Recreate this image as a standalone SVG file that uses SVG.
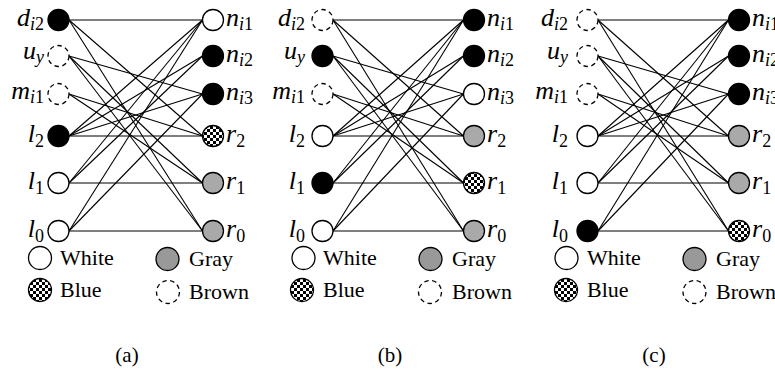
<svg xmlns="http://www.w3.org/2000/svg" width="775" height="379" viewBox="0 0 775 379">
<defs>
<pattern id="chk" patternUnits="userSpaceOnUse" width="6" height="6">
<rect width="6" height="6" fill="#fff"/>
<rect width="3" height="3" fill="#000"/>
<rect x="3" y="3" width="3" height="3" fill="#000"/>
</pattern>
</defs>
<style>
circle{stroke:#000;stroke-width:1.3}
.w{fill:#fff}
.k{fill:#000}
.g{fill:#a9a9a9}
.lg{fill:#999}
.b{fill:url(#chk)}
.d{fill:#fff;stroke-dasharray:4.5 3.5}
#connectors line{stroke:#000;stroke-width:1.1}
text{font-family:"Liberation Serif","Times New Roman",serif;font-size:22px;fill:#000}
.m{font-size:26px}
.i{font-style:italic}
.s{font-size:18px}
.L{text-anchor:end}
.c{text-anchor:middle;font-size:21px}
</style>
<g id="connectors">
<!-- panel a -->
<line x1="69" y1="20" x2="202.5" y2="20"/>
<line x1="69" y1="20" x2="202.5" y2="136"/>
<line x1="69" y1="20" x2="202.5" y2="231"/>
<line x1="69" y1="56" x2="202.5" y2="94"/>
<line x1="69" y1="56" x2="202.5" y2="183"/>
<line x1="69" y1="56" x2="202.5" y2="231"/>
<line x1="69" y1="94" x2="202.5" y2="136"/>
<line x1="69" y1="94" x2="202.5" y2="183"/>
<line x1="69" y1="136" x2="202.5" y2="20"/>
<line x1="69" y1="136" x2="202.5" y2="56"/>
<line x1="69" y1="136" x2="202.5" y2="94"/>
<line x1="69" y1="136" x2="202.5" y2="136"/>
<line x1="69" y1="183" x2="202.5" y2="20"/>
<line x1="69" y1="183" x2="202.5" y2="56"/>
<line x1="69" y1="183" x2="202.5" y2="183"/>
<line x1="69" y1="231" x2="202.5" y2="20"/>
<line x1="69" y1="231" x2="202.5" y2="94"/>
<line x1="69" y1="231" x2="202.5" y2="231"/>
<!-- panel b -->
<line x1="333" y1="20" x2="463.5" y2="20"/>
<line x1="333" y1="20" x2="463.5" y2="136"/>
<line x1="333" y1="20" x2="463.5" y2="231"/>
<line x1="333" y1="56" x2="463.5" y2="94"/>
<line x1="333" y1="56" x2="463.5" y2="183"/>
<line x1="333" y1="56" x2="463.5" y2="231"/>
<line x1="333" y1="94" x2="463.5" y2="136"/>
<line x1="333" y1="94" x2="463.5" y2="183"/>
<line x1="333" y1="136" x2="463.5" y2="20"/>
<line x1="333" y1="136" x2="463.5" y2="56"/>
<line x1="333" y1="136" x2="463.5" y2="94"/>
<line x1="333" y1="136" x2="463.5" y2="136"/>
<line x1="333" y1="183" x2="463.5" y2="20"/>
<line x1="333" y1="183" x2="463.5" y2="56"/>
<line x1="333" y1="183" x2="463.5" y2="183"/>
<line x1="333" y1="231" x2="463.5" y2="20"/>
<line x1="333" y1="231" x2="463.5" y2="94"/>
<line x1="333" y1="231" x2="463.5" y2="231"/>
<!-- panel c -->
<line x1="598" y1="20" x2="728.5" y2="20"/>
<line x1="598" y1="20" x2="728.5" y2="136"/>
<line x1="598" y1="20" x2="728.5" y2="231"/>
<line x1="598" y1="56" x2="728.5" y2="94"/>
<line x1="598" y1="56" x2="728.5" y2="183"/>
<line x1="598" y1="56" x2="728.5" y2="231"/>
<line x1="598" y1="94" x2="728.5" y2="136"/>
<line x1="598" y1="94" x2="728.5" y2="183"/>
<line x1="598" y1="136" x2="728.5" y2="20"/>
<line x1="598" y1="136" x2="728.5" y2="56"/>
<line x1="598" y1="136" x2="728.5" y2="94"/>
<line x1="598" y1="136" x2="728.5" y2="136"/>
<line x1="598" y1="183" x2="728.5" y2="20"/>
<line x1="598" y1="183" x2="728.5" y2="56"/>
<line x1="598" y1="183" x2="728.5" y2="183"/>
<line x1="598" y1="231" x2="728.5" y2="20"/>
<line x1="598" y1="231" x2="728.5" y2="94"/>
<line x1="598" y1="231" x2="728.5" y2="231"/>
</g>

<!-- Panel (a) nodes -->
<g id="a-di2"><circle class="k" cx="58.5" cy="20" r="10.5"/><text class="L m" x="44" y="26"><tspan class="i">d</tspan><tspan class="s" dy="4"><tspan class="i">i</tspan>2</tspan></text></g>
<g id="a-uy"><circle class="d" cx="58.5" cy="56" r="10.5"/><text class="L m" x="44" y="59"><tspan class="i">u</tspan><tspan class="s i" dy="4">y</tspan></text></g>
<g id="a-mi1"><circle class="d" cx="58.5" cy="94" r="10.5"/><text class="L m" x="44" y="99"><tspan class="i">m</tspan><tspan class="s" dy="4"><tspan class="i">i</tspan>1</tspan></text></g>
<g id="a-l2"><circle class="k" cx="58.5" cy="136" r="10.5"/><text class="L m" x="44" y="142"><tspan class="i">l</tspan><tspan class="s" dy="5">2</tspan></text></g>
<g id="a-l1"><circle class="w" cx="58.5" cy="183" r="10.5"/><text class="L m" x="44" y="189"><tspan class="i">l</tspan><tspan class="s" dy="5">1</tspan></text></g>
<g id="a-l0"><circle class="w" cx="58.5" cy="231" r="10.5"/><text class="L m" x="44" y="237"><tspan class="i">l</tspan><tspan class="s" dy="5">0</tspan></text></g>
<g id="a-ni1"><circle class="w" cx="213" cy="20" r="10.5"/><text class="m" x="226" y="26"><tspan class="i">n</tspan><tspan class="s" dy="4"><tspan class="i">i</tspan>1</tspan></text></g>
<g id="a-ni2"><circle class="k" cx="213" cy="56" r="10.5"/><text class="m" x="226" y="62"><tspan class="i">n</tspan><tspan class="s" dy="4"><tspan class="i">i</tspan>2</tspan></text></g>
<g id="a-ni3"><circle class="k" cx="213" cy="94" r="10.5"/><text class="m" x="226" y="100"><tspan class="i">n</tspan><tspan class="s" dy="4"><tspan class="i">i</tspan>3</tspan></text></g>
<g id="a-r2"><circle class="b" cx="213" cy="136" r="10.5"/><text class="m" x="226" y="142"><tspan class="i">r</tspan><tspan class="s" dy="5">2</tspan></text></g>
<g id="a-r1"><circle class="g" cx="213" cy="183" r="10.5"/><text class="m" x="226" y="189"><tspan class="i">r</tspan><tspan class="s" dy="5">1</tspan></text></g>
<g id="a-r0"><circle class="g" cx="213" cy="231" r="10.5"/><text class="m" x="226" y="237"><tspan class="i">r</tspan><tspan class="s" dy="5">0</tspan></text></g>

<!-- Panel (b) nodes -->
<g id="b-di2"><circle class="d" cx="322.5" cy="20" r="10.5"/><text class="L m" x="305" y="26"><tspan class="i">d</tspan><tspan class="s" dy="4"><tspan class="i">i</tspan>2</tspan></text></g>
<g id="b-uy"><circle class="k" cx="322.5" cy="56" r="10.5"/><text class="L m" x="305" y="59"><tspan class="i">u</tspan><tspan class="s i" dy="4">y</tspan></text></g>
<g id="b-mi1"><circle class="d" cx="322.5" cy="94" r="10.5"/><text class="L m" x="305" y="99"><tspan class="i">m</tspan><tspan class="s" dy="4"><tspan class="i">i</tspan>1</tspan></text></g>
<g id="b-l2"><circle class="w" cx="322.5" cy="136" r="10.5"/><text class="L m" x="305" y="142"><tspan class="i">l</tspan><tspan class="s" dy="5">2</tspan></text></g>
<g id="b-l1"><circle class="k" cx="322.5" cy="183" r="10.5"/><text class="L m" x="305" y="189"><tspan class="i">l</tspan><tspan class="s" dy="5">1</tspan></text></g>
<g id="b-l0"><circle class="w" cx="322.5" cy="231" r="10.5"/><text class="L m" x="305" y="237"><tspan class="i">l</tspan><tspan class="s" dy="5">0</tspan></text></g>
<g id="b-ni1"><circle class="k" cx="474" cy="20" r="10.5"/><text class="m" x="487" y="26"><tspan class="i">n</tspan><tspan class="s" dy="4"><tspan class="i">i</tspan>1</tspan></text></g>
<g id="b-ni2"><circle class="k" cx="474" cy="56" r="10.5"/><text class="m" x="487" y="62"><tspan class="i">n</tspan><tspan class="s" dy="4"><tspan class="i">i</tspan>2</tspan></text></g>
<g id="b-ni3"><circle class="w" cx="474" cy="94" r="10.5"/><text class="m" x="487" y="100"><tspan class="i">n</tspan><tspan class="s" dy="4"><tspan class="i">i</tspan>3</tspan></text></g>
<g id="b-r2"><circle class="g" cx="474" cy="136" r="10.5"/><text class="m" x="487" y="142"><tspan class="i">r</tspan><tspan class="s" dy="5">2</tspan></text></g>
<g id="b-r1"><circle class="b" cx="474" cy="183" r="10.5"/><text class="m" x="487" y="189"><tspan class="i">r</tspan><tspan class="s" dy="5">1</tspan></text></g>
<g id="b-r0"><circle class="g" cx="474" cy="231" r="10.5"/><text class="m" x="487" y="237"><tspan class="i">r</tspan><tspan class="s" dy="5">0</tspan></text></g>

<!-- Panel (c) nodes -->
<g id="c-di2"><circle class="d" cx="587.5" cy="20" r="10.5"/><text class="L m" x="568" y="26"><tspan class="i">d</tspan><tspan class="s" dy="4"><tspan class="i">i</tspan>2</tspan></text></g>
<g id="c-uy"><circle class="d" cx="587.5" cy="56" r="10.5"/><text class="L m" x="568" y="59"><tspan class="i">u</tspan><tspan class="s i" dy="4">y</tspan></text></g>
<g id="c-mi1"><circle class="d" cx="587.5" cy="94" r="10.5"/><text class="L m" x="568" y="99"><tspan class="i">m</tspan><tspan class="s" dy="4"><tspan class="i">i</tspan>1</tspan></text></g>
<g id="c-l2"><circle class="w" cx="587.5" cy="136" r="10.5"/><text class="L m" x="568" y="142"><tspan class="i">l</tspan><tspan class="s" dy="5">2</tspan></text></g>
<g id="c-l1"><circle class="w" cx="587.5" cy="183" r="10.5"/><text class="L m" x="568" y="189"><tspan class="i">l</tspan><tspan class="s" dy="5">1</tspan></text></g>
<g id="c-l0"><circle class="k" cx="587.5" cy="231" r="10.5"/><text class="L m" x="568" y="237"><tspan class="i">l</tspan><tspan class="s" dy="5">0</tspan></text></g>
<g id="c-ni1"><circle class="k" cx="739" cy="20" r="10.5"/><text class="m" x="752" y="26"><tspan class="i">n</tspan><tspan class="s" dy="4"><tspan class="i">i</tspan>1</tspan></text></g>
<g id="c-ni2"><circle class="k" cx="739" cy="56" r="10.5"/><text class="m" x="752" y="62"><tspan class="i">n</tspan><tspan class="s" dy="4"><tspan class="i">i</tspan>2</tspan></text></g>
<g id="c-ni3"><circle class="k" cx="739" cy="94" r="10.5"/><text class="m" x="752" y="100"><tspan class="i">n</tspan><tspan class="s" dy="4"><tspan class="i">i</tspan>3</tspan></text></g>
<g id="c-r2"><circle class="g" cx="739" cy="136" r="10.5"/><text class="m" x="752" y="142"><tspan class="i">r</tspan><tspan class="s" dy="5">2</tspan></text></g>
<g id="c-r1"><circle class="g" cx="739" cy="183" r="10.5"/><text class="m" x="752" y="189"><tspan class="i">r</tspan><tspan class="s" dy="5">1</tspan></text></g>
<g id="c-r0"><circle class="b" cx="739" cy="231" r="10.5"/><text class="m" x="752" y="237"><tspan class="i">r</tspan><tspan class="s" dy="5">0</tspan></text></g>

<!-- Legends -->
<g id="a-legend">
<circle class="w" cx="40" cy="258" r="11.5"/><text x="60" y="265">White</text>
<circle class="lg" cx="167.5" cy="259" r="11.5"/><text x="189" y="266">Gray</text>
<circle class="b" cx="40" cy="290" r="11.5"/><text x="60" y="297">Blue</text>
<circle class="d" cx="168" cy="292" r="11.5"/><text x="189" y="299">Brown</text>
<text class="c" x="127" y="362">(a)</text>
</g>
<g id="b-legend">
<circle class="w" cx="303.5" cy="258" r="11.5"/><text x="323" y="265">White</text>
<circle class="lg" cx="430.5" cy="259" r="11.5"/><text x="452" y="266">Gray</text>
<circle class="b" cx="302" cy="290" r="11.5"/><text x="323" y="297">Blue</text>
<circle class="d" cx="430" cy="292" r="11.5"/><text x="452" y="299">Brown</text>
<text class="c" x="390" y="362">(b)</text>
</g>
<g id="c-legend">
<circle class="w" cx="566.5" cy="258" r="11.5"/><text x="587" y="265">White</text>
<circle class="lg" cx="694.5" cy="259" r="11.5"/><text x="716" y="266">Gray</text>
<circle class="b" cx="566" cy="290" r="11.5"/><text x="587" y="297">Blue</text>
<circle class="d" cx="694.5" cy="292" r="11.5"/><text x="716" y="299">Brown</text>
<text class="c" x="654" y="362">(c)</text>
</g>
</svg>
